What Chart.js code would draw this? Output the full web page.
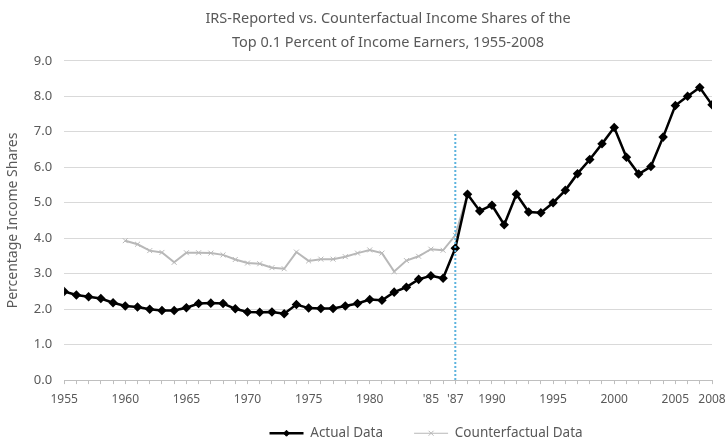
<!DOCTYPE html>
<html>
<head>
<meta charset="utf-8">
<script src="https://cdn.jsdelivr.net/npm/chart.js@4/dist/chart.umd.min.js"></script>
<style>
  body { margin: 0; background: #fff; }
  #wrap { width: 728px; height: 441px; }
</style>
</head>
<body>
<div id="wrap"><canvas id="chart"></canvas></div>
<script>
// years on the x axis
const years = [];
for (let y = 1955; y <= 2008; y++) years.push(y);

// IRS-reported (actual) shares, 1955-2008
const actual = [
    2.50, 2.40, 2.35, 2.30, 2.18, 2.09, 2.06, 2.00, 1.96, 1.96,
    2.04, 2.16, 2.17, 2.16, 2.01, 1.92, 1.91, 1.92, 1.87, 2.13,
    2.03, 2.02, 2.02, 2.09, 2.16, 2.27, 2.25, 2.48, 2.62, 2.84,
    2.94, 2.87, 3.72, 5.24, 4.77, 4.93, 4.38, 5.24, 4.74, 4.72,
    5.00, 5.35, 5.82, 6.22, 6.66, 7.12, 6.28, 5.81, 6.02, 6.85,
    7.74, 8.00, 8.25, 7.76
];

// counterfactual shares, 1960-1988
const cfYears = [];
for (let y = 1960; y <= 1988; y++) cfYears.push(y);
const counterfactual = [
    3.93, 3.83, 3.65, 3.60, 3.32, 3.59, 3.59, 3.58, 3.53, 3.40,
    3.30, 3.28, 3.17, 3.14, 3.61, 3.36, 3.41, 3.41, 3.48, 3.58,
    3.67, 3.58, 3.06, 3.37, 3.49, 3.69, 3.66, 4.08, 5.24
];

// labelled x ticks
const tickYears = [1955, 1960, 1965, 1970, 1975, 1980, 1985, 1987, 1990, 1995, 2000, 2005, 2008];
const tickLabels = ['1955', '1960', '1965', '1970', '1975', '1980', "'85", "'87", '1990', '1995', '2000', '2005', '2008'];

// 1987 marker line
const markYear = 1987;
const markTop = 7.0;

const grey = '#595959';

const actualPts = years.map((y, i) => ({x: y, y: actual[i]}));
const cfPts = cfYears.map((y, i) => ({x: y, y: counterfactual[i]}));

// legend sits a bit right of the plot centre, like the original
const legendShift = {
    id: 'legendShift',
    afterLayout(chart) {
        const lg = chart.legend;
        const dx = 38;
        lg.left += dx;
        lg.right += dx;
        (lg.legendHitBoxes || []).forEach(b => { b.left += dx; });
    }
};

// put the series marker in the middle of each legend line
const legendMarkers = {
    id: 'legendMarkers',
    afterDraw(chart) {
        const lg = chart.legend;
        if (!lg || !lg.legendHitBoxes) return;
        const ctx = chart.ctx;
        lg.legendItems.forEach((item, i) => {
            const box = lg.legendHitBoxes[i];
            const ds = chart.data.datasets[item.datasetIndex];
            const cx = box.left + 17;
            const cy = box.top + box.height / 2;
            ctx.save();
            ctx.fillStyle = ds.backgroundColor;
            ctx.strokeStyle = ds.borderColor;
            ctx.lineWidth = ds.pointBorderWidth || 1;
            Chart.helpers.drawPoint(ctx, {pointStyle: ds.pointStyle, radius: ds.pointRadius, borderWidth: ctx.lineWidth}, cx, cy);
            ctx.restore();
        });
    }
};

new Chart(document.getElementById('chart'), {
    type: 'line',
    data: {
        datasets: [{
            label: 'Actual Data',
            data: actualPts,
            borderColor: '#000',
            backgroundColor: '#000',
            borderWidth: 2.5,
            pointStyle: 'rectRot',
            pointRadius: 3,
            tension: 0,
            order: 1
        }, {
            label: 'Counterfactual Data',
            data: cfPts,
            borderColor: '#b8b8b8',
            backgroundColor: '#b8b8b8',
            borderWidth: 2,
            pointStyle: 'crossRot',
            pointRadius: 3.5,
            pointBorderWidth: 1,
            tension: 0,
            order: 2
        }, {
            label: 'mark',
            data: [{x: markYear, y: 0}, {x: markYear, y: markTop}],
            borderColor: '#5cb3de',
            borderWidth: 2,
            borderDash: [2, 2],
            pointRadius: 0,
            order: 0
        }]
    },
    plugins: [legendShift, legendMarkers],
    options: {
        responsive: true,
        maintainAspectRatio: false,
        animation: false,
        layout: { padding: { left: 5, right: 0, top: 1, bottom: -9 } },
        plugins: {
            title: {
                display: true,
                fullSize: false,
                text: ['IRS-Reported vs. Counterfactual Income Shares of the', 'Top 0.1 Percent of Income Earners, 1955-2008'],
                color: grey,
                font: { family: 'Noto Sans', size: 14.5, weight: 'normal', lineHeight: 1.65 },
                padding: { top: 6, bottom: 6 }
            },
            legend: {
                position: 'bottom',
                fullSize: false,
                labels: {
                    generateLabels: (chart) => {
                        const items = Chart.defaults.plugins.legend.labels.generateLabels(chart)
                            .filter(item => item.text !== 'mark');
                        // widen the gap after the first entry
                        items.forEach(item => {
                            if (item.text === 'Actual Data') item.text += '      ';
                        });
                        return items;
                    },
                    color: grey,
                    font: { family: 'Noto Sans', size: 13.5 },
                    usePointStyle: true,
                    pointStyle: 'line',
                    pointStyleWidth: 34,
                    boxWidth: 34,
                    boxHeight: 8,
                    padding: 10
                }
            },
            tooltip: { enabled: false }
        },
        scales: {
            x: {
                type: 'linear',
                min: 1955,
                max: 2008,
                afterBuildTicks: (axis) => {
                    axis.ticks = years.map(y => ({value: y}));
                },
                afterFit: (axis) => {
                    axis.height += 2;
                    // only half the last label hangs past the plot
                    axis.paddingRight = 16;
                },
                ticks: {
                    autoSkip: false,
                    maxRotation: 0,
                    color: grey,
                    font: { family: 'Noto Sans', size: 12 },
                    padding: 8,
                    callback: (v) => {
                        const k = tickYears.indexOf(v);
                        return k >= 0 ? tickLabels[k] : '';
                    }
                },
                grid: {
                    drawOnChartArea: false,
                    drawTicks: true,
                    tickLength: 4,
                    color: '#bfbfbf'
                },
                border: { color: '#bfbfbf' }
            },
            y: {
                min: 0,
                max: 9,
                ticks: {
                    stepSize: 1,
                    color: grey,
                    font: { family: 'Noto Sans', size: 13 },
                    padding: 12,
                    callback: (v) => v.toFixed(1)
                },
                grid: { color: '#d9d9d9', drawTicks: false },
                border: { display: false },
                title: {
                    display: true,
                    text: 'Percentage Income Shares',
                    color: grey,
                    font: { family: 'Noto Sans', size: 14 },
                    padding: { top: 0, bottom: 0 }
                }
            }
        }
    }
});
</script>
</body>
</html>
